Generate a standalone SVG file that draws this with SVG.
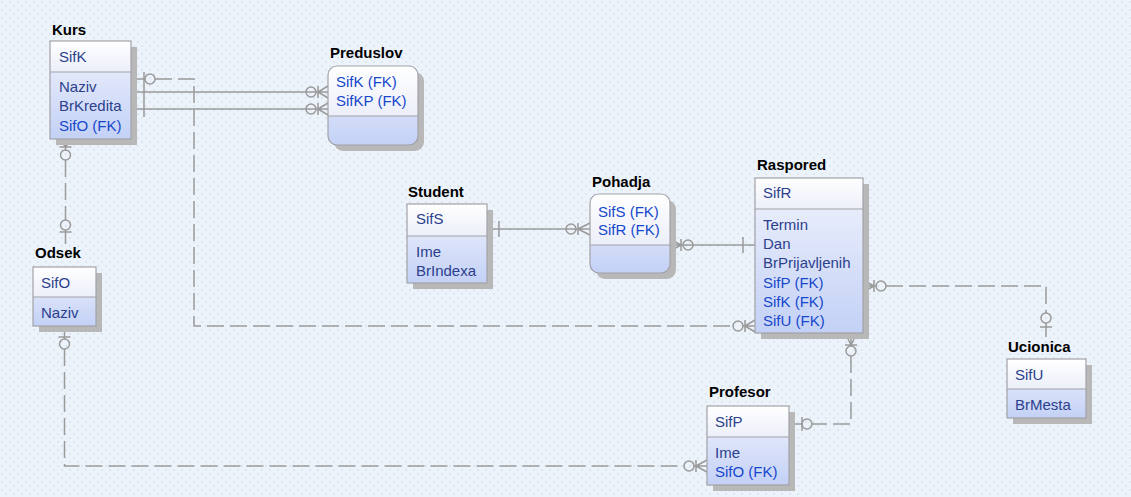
<svg xmlns="http://www.w3.org/2000/svg" width="1131" height="497" viewBox="0 0 1131 497">
<defs>
<pattern id="bgp" width="8" height="8" patternUnits="userSpaceOnUse">
<rect width="8" height="8" fill="#edf3fa"/>
<path d="M1 1l2 2M3 1l-2 2M5 5l2 2M7 5l-2 2" stroke="#dbe3ee" stroke-width="0.8"/>
</pattern>
<linearGradient id="hg" x1="0" y1="0" x2="0" y2="1">
<stop offset="0" stop-color="#ffffff"/>
<stop offset="1" stop-color="#eceff9"/>
</linearGradient>
<linearGradient id="bg" x1="0" y1="0" x2="0" y2="1">
<stop offset="0" stop-color="#f1f3fd"/>
<stop offset="1" stop-color="#c3d1f6"/>
</linearGradient>
<style>
.title{font-family:"Liberation Sans",Arial,sans-serif;font-size:15px;font-weight:bold;fill:#000}
.at{font-family:"Liberation Sans",Arial,sans-serif;font-size:15px;fill:#2b3f8c}
.fk{fill:#1748cc}
.sh{fill:#b8b8b8}
.hd{fill:url(#hg)}
.bd{fill:url(#bg)}
.bx{fill:none;stroke:#a2a2a8;stroke-width:1.2}
.sep{stroke:#a2a2a8;stroke-width:1.2}
.c{fill:none;stroke:#9a9a9a;stroke-width:1.5}
.d{stroke-dasharray:17 6}
.o{fill:none;stroke:#9a9a9a;stroke-width:1.5}
</style>
</defs>
<rect width="1131" height="497" fill="url(#bgp)"/>

<g id="connectors">
<!-- Kurs - Preduslov (SifK) -->
<path class="c" d="M131 92H328M318 86V98M318 92L328 86M318 92L328 98"/>
<circle class="o" cx="311" cy="92" r="5"/>
<!-- Kurs - Preduslov (SifKP) -->
<path class="c" d="M131 109H328M318 103V115M318 109L328 103M318 109L328 115"/>
<circle class="o" cx="311" cy="109" r="5"/>
<!-- shared one-bars at Kurs -->
<path class="c" d="M144 72V117"/>
<!-- Kurs - Raspored -->
<path class="c" d="M131 79H145M745 320V332M745 326L755 320M745 326L755 332M743 326H755"/>
<circle class="o" cx="150" cy="79" r="5"/>
<path class="c d" d="M155 79H194V326H733"/>
<circle class="o" cx="738" cy="326" r="5"/>
<!-- Student - Pohadja -->
<path class="c" d="M487 229H590M499 221V237M578 223V235M578 229L590 223M578 229L590 235"/>
<circle class="o" cx="571" cy="229" r="5"/>
<!-- Pohadja - Raspored -->
<path class="c" d="M670 245H755M681 239V251M681 245L670 239M681 245L670 251M743 237V253"/>
<circle class="o" cx="688" cy="245" r="5"/>
<!-- Raspored - Ucionica -->
<path class="c" d="M863 286H876M874 280V292M874 286L863 280M874 286L863 292"/>
<circle class="o" cx="881" cy="286" r="5"/>
<path class="c d" d="M886 286H1046V313"/>
<circle class="o" cx="1046" cy="318" r="5"/>
<path class="c" d="M1040 327H1052M1046 323V337"/>
<!-- Raspored - Profesor -->
<path class="c" d="M851 333V346M845 345H857M851 345L845 333M851 345L857 333"/>
<circle class="o" cx="851" cy="351" r="5"/>
<path class="c d" d="M851 356V424H812"/>
<circle class="o" cx="807" cy="424" r="5"/>
<path class="c" d="M789 424H802M802 417V431"/>
<!-- Odsek - Kurs -->
<path class="c" d="M65.5 139V151M59.5 147H71.5M65.5 147L59.5 139M65.5 147L71.5 139"/>
<circle class="o" cx="65.5" cy="155" r="5"/>
<path class="c d" d="M65.5 160V220"/>
<circle class="o" cx="65.5" cy="225" r="5"/>
<path class="c" d="M59.5 232H71.5M65.5 230V244"/>
<!-- Odsek - Profesor -->
<path class="c" d="M64.5 332V339M58.5 337H70.5"/>
<circle class="o" cx="64.5" cy="344" r="5"/>
<path class="c d" d="M64.5 349V466H684"/>
<circle class="o" cx="689" cy="466" r="5"/>
<path class="c" d="M694 466H707M696 460V472M696 466L707 460M696 466L707 472"/>
</g>

<g id="Kurs">
<rect class="sh" x="56" y="47" width="81" height="98"/>
<rect class="bd" x="50" y="41" width="81" height="98"/>
<rect class="hd" x="50" y="41" width="81" height="31"/>
<line class="sep" x1="50" y1="72" x2="131" y2="72"/>
<rect class="bx" x="50" y="41" width="81" height="98"/>
<text class="title" x="52" y="35">Kurs</text>
<text class="at" x="59" y="62">SifK</text>
<text class="at" x="59" y="92">Naziv</text>
<text class="at" x="59" y="111">BrKredita</text>
<text class="at fk" x="59" y="131">SifO (FK)</text>
</g>

<g id="Preduslov">
<rect class="sh" x="334" y="72" width="90" height="79" rx="9"/>
<rect class="bd" x="328" y="66" width="90" height="79" rx="9"/>
<path class="hd" d="M328 116V75a9 9 0 0 1 9-9h72a9 9 0 0 1 9 9v41z"/>
<line class="sep" x1="328" y1="116" x2="418" y2="116"/>
<rect class="bx" x="328" y="66" width="90" height="79" rx="9"/>
<text class="title" x="330" y="58">Preduslov</text>
<text class="at fk" x="336" y="87">SifK (FK)</text>
<text class="at fk" x="336" y="106">SifKP (FK)</text>
</g>

<g id="Student">
<rect class="sh" x="413" y="210" width="80" height="79"/>
<rect class="bd" x="407" y="204" width="80" height="79"/>
<rect class="hd" x="407" y="204" width="80" height="32"/>
<line class="sep" x1="407" y1="236" x2="487" y2="236"/>
<rect class="bx" x="407" y="204" width="80" height="79"/>
<text class="title" x="408" y="197">Student</text>
<text class="at" x="416" y="224">SifS</text>
<text class="at" x="416" y="257">Ime</text>
<text class="at" x="416" y="276">BrIndexa</text>
</g>

<g id="Pohadja">
<rect class="sh" x="596" y="200" width="80" height="79" rx="9"/>
<rect class="bd" x="590" y="194" width="80" height="79" rx="9"/>
<path class="hd" d="M590 245V203a9 9 0 0 1 9-9h62a9 9 0 0 1 9 9v42z"/>
<line class="sep" x1="590" y1="245" x2="670" y2="245"/>
<rect class="bx" x="590" y="194" width="80" height="79" rx="9"/>
<text class="title" x="592" y="187">Pohadja</text>
<text class="at fk" x="598" y="217">SifS (FK)</text>
<text class="at fk" x="598" y="235">SifR (FK)</text>
</g>

<g id="Raspored">
<rect class="sh" x="761" y="184" width="108" height="155"/>
<rect class="bd" x="755" y="178" width="108" height="155"/>
<rect class="hd" x="755" y="178" width="108" height="31"/>
<line class="sep" x1="755" y1="209" x2="863" y2="209"/>
<rect class="bx" x="755" y="178" width="108" height="155"/>
<text class="title" x="757" y="170">Raspored</text>
<text class="at" x="763" y="198">SifR</text>
<text class="at" x="763" y="230">Termin</text>
<text class="at" x="763" y="249">Dan</text>
<text class="at" x="763" y="268">BrPrijavljenih</text>
<text class="at fk" x="763" y="288">SifP (FK)</text>
<text class="at fk" x="763" y="307">SifK (FK)</text>
<text class="at fk" x="763" y="326">SifU (FK)</text>
</g>

<g id="Odsek">
<rect class="sh" x="39" y="273" width="63" height="59"/>
<rect class="bd" x="33" y="267" width="63" height="59"/>
<rect class="hd" x="33" y="267" width="63" height="30"/>
<line class="sep" x1="33" y1="297" x2="96" y2="297"/>
<rect class="bx" x="33" y="267" width="63" height="59"/>
<text class="title" x="35" y="258">Odsek</text>
<text class="at" x="41" y="288">SifO</text>
<text class="at" x="41" y="318">Naziv</text>
</g>

<g id="Profesor">
<rect class="sh" x="713" y="412" width="82" height="79"/>
<rect class="bd" x="707" y="406" width="82" height="79"/>
<rect class="hd" x="707" y="406" width="82" height="31"/>
<line class="sep" x1="707" y1="437" x2="789" y2="437"/>
<rect class="bx" x="707" y="406" width="82" height="79"/>
<text class="title" x="709" y="397">Profesor</text>
<text class="at" x="715" y="427">SifP</text>
<text class="at" x="715" y="458">Ime</text>
<text class="at fk" x="715" y="477">SifO (FK)</text>
</g>

<g id="Ucionica">
<rect class="sh" x="1013" y="365" width="79" height="59"/>
<rect class="bd" x="1007" y="359" width="79" height="59"/>
<rect class="hd" x="1007" y="359" width="79" height="30"/>
<line class="sep" x1="1007" y1="389" x2="1086" y2="389"/>
<rect class="bx" x="1007" y="359" width="79" height="59"/>
<text class="title" x="1008" y="352">Ucionica</text>
<text class="at" x="1015" y="380">SifU</text>
<text class="at" x="1015" y="410">BrMesta</text>
</g>
</svg>
